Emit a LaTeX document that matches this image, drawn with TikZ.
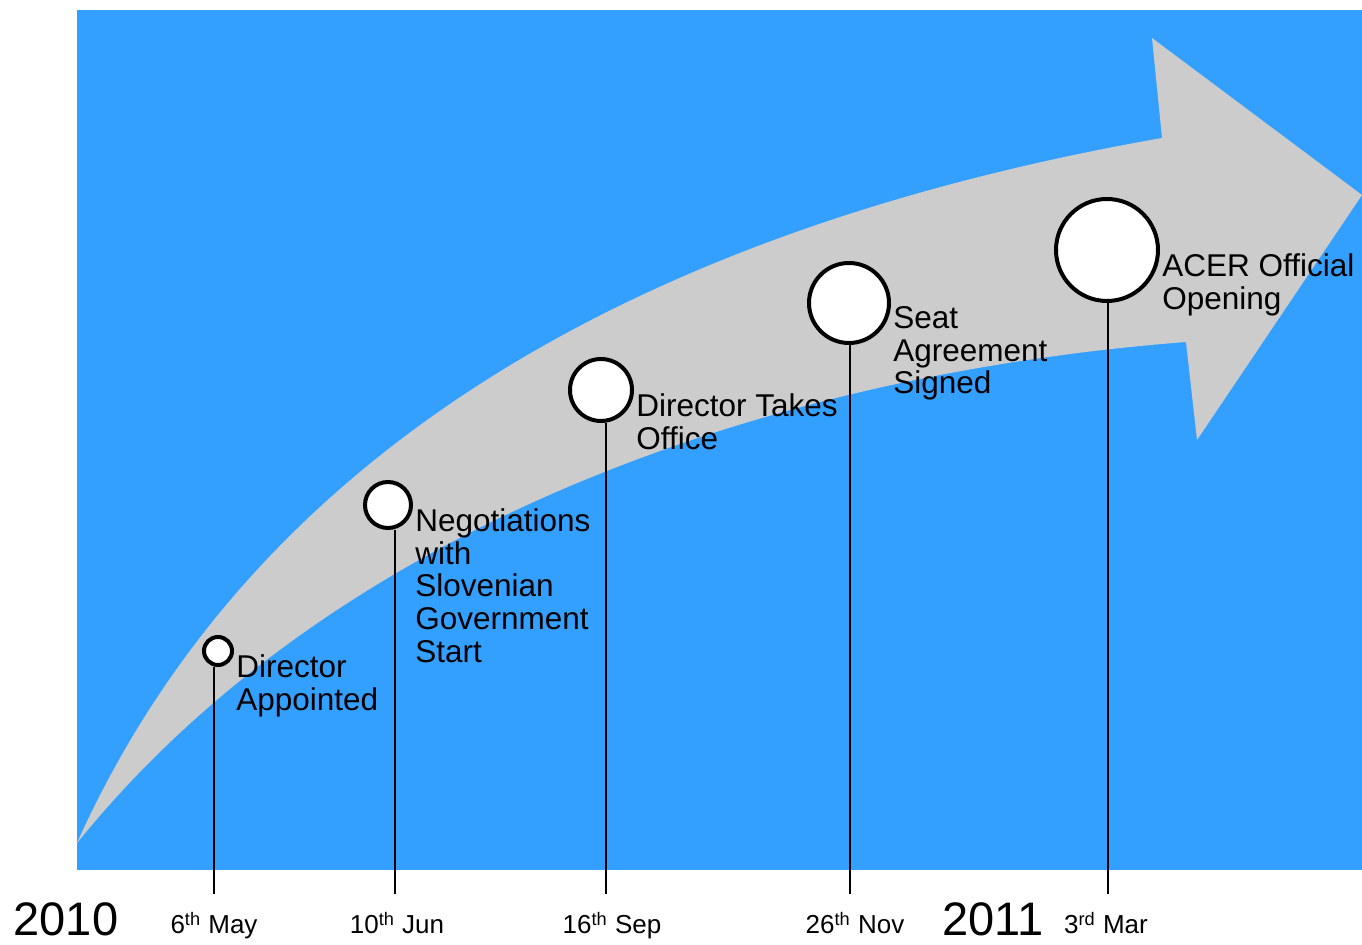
\documentclass[tikz,border=0pt]{standalone}
\usepackage{fontspec}
\setmainfont{Liberation Sans}
\usepackage{xcolor}
\usepackage{tikz}
\usetikzlibrary{positioning}
\definecolor{bgblue}{RGB}{51,160,255}
\definecolor{arrowgray}{RGB}{204,204,204}
\tikzset{
milestone/.style={circle,draw=black,line width=2pt,fill=white,inner sep=0pt},
evtext/.style={anchor=north west,inner sep=0pt,align=left,font=\fontsize{15.75}{16.4}\selectfont},
datetext/.style={anchor=base,inner sep=0pt,font=\fontsize{13}{15}\selectfont},
yeartext/.style={anchor=base,inner sep=0pt,font=\fontsize{23.5}{26}\selectfont},
tick/.style={line width=0.75pt}
}

\begin{document}
\begin{tikzpicture}[x=0.5pt,y=-0.5pt]
\useasboundingbox (0,0) rectangle (1362,945);

%background:
\fill[bgblue] (77,10) rectangle (1362,870);

%arrow:
\fill[arrowgray] (77,843) .. controls (245,470) and (610,235) .. (1162,138)
 -- (1152,38) -- (1362,195) -- (1197,440) -- (1186,342)
 .. controls (760,375) and (330,530) .. (77,843) -- cycle;

%----------milestones
\node[milestone,minimum size=14pt] (c1) at (218,651) {};
\node[milestone,minimum size=23pt] (c2) at (388,505) {};
\node[milestone,minimum size=31pt] (c3) at (601,390) {};
\node[milestone,minimum size=40pt] (c4) at (849,303) {};
\node[milestone,minimum size=51pt] (c5) at (1107,250) {};

%labels:
\node[evtext] (l1) at ([xshift=1pt,yshift=-1.5pt]c1.east) {Director\\Appointed};
\node[evtext] (l2) at ([xshift=1pt,yshift=-1.5pt]c2.east) {Negotiations\\with\\Slovenian\\Government\\Start};
\node[evtext] (l3) at ([xshift=1pt,yshift=-1.5pt]c3.east) {Director Takes\\Office};
\node[evtext] (l4) at ([xshift=1pt,yshift=-1.5pt]c4.east) {Seat\\Agreement\\Signed};
\node[evtext] (l5) at ([xshift=1pt,yshift=-1.5pt]c5.east) {ACER Official\\Opening};

%----------ticks
\coordinate (t1) at (214,894);
\coordinate (t2) at (395,894);
\coordinate (t3) at (606,894);
\coordinate (t4) at (850,894);
\coordinate (t5) at (1108,894);
\foreach \i in {1,...,5}{%
\draw[tick] (c\i.south -| t\i) -- (t\i);
}

%dates:
\node[datetext] (d1) at ([yshift=-20pt]t1) {6\textsuperscript{th} May};
\node[datetext] (d2) at ([xshift=1pt,yshift=-20pt]t2) {10\textsuperscript{th} Jun};
\node[datetext] (d3) at ([xshift=3pt,yshift=-20pt]t3) {16\textsuperscript{th} Sep};
\node[datetext] (d4) at ([xshift=2.5pt,yshift=-20pt]t4) {26\textsuperscript{th} Nov};
\node[datetext] (d5) at ([xshift=-1pt,yshift=-20pt]t5) {3\textsuperscript{rd} Mar};

%years:
\node[yeartext] (y1) at (66,936) {2010};
\node[yeartext] (y2) at (993,936) {2011};

\end{tikzpicture}
\end{document}
